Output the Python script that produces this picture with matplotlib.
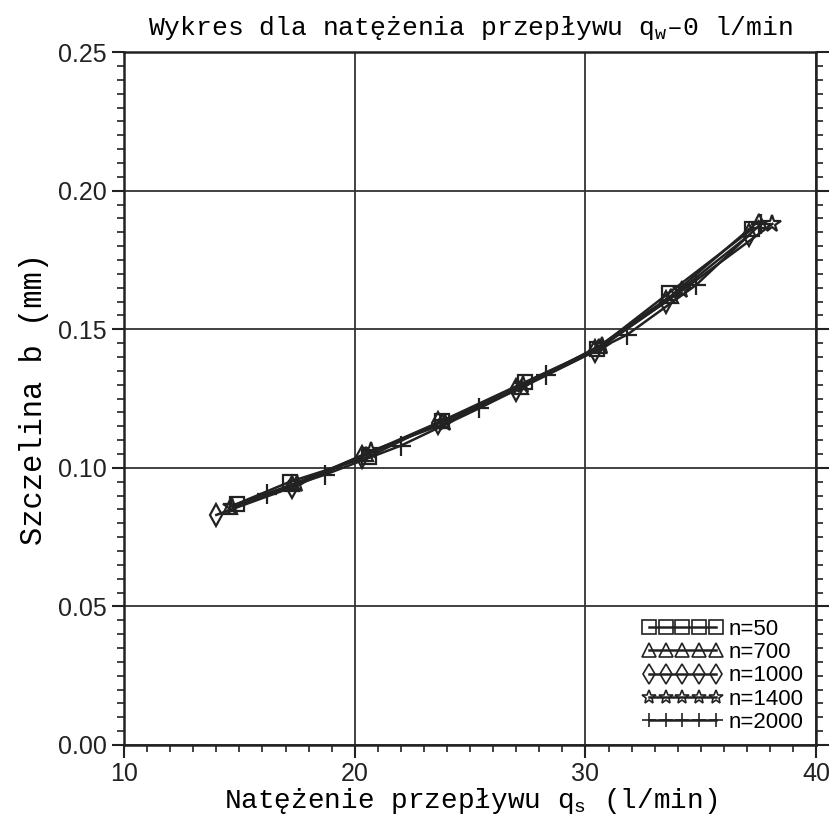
import numpy as np
import matplotlib.pyplot as plt
from matplotlib.ticker import MultipleLocator

x_50 = [14.9, 17.2, 20.6, 23.8, 27.4, 30.5, 33.6, 37.2]
y_50 = [0.087, 0.095, 0.104, 0.117, 0.131, 0.143, 0.163, 0.186]
x_700 = [14.6, 17.3, 20.5, 23.8, 27.2, 30.6, 33.7, 37.5]
y_700 = [0.086, 0.094, 0.105, 0.117, 0.129, 0.144, 0.162, 0.189]
x_1000 = [14.0, 17.3, 20.3, 23.6, 27.0, 30.4, 33.5, 37.1]
y_1000 = [0.083, 0.093, 0.104, 0.116, 0.128, 0.142, 0.160, 0.184]
x_1400 = [14.7, 17.5, 20.7, 23.9, 27.3, 30.7, 34.2, 38.1]
y_1400 = [0.086, 0.094, 0.106, 0.116, 0.130, 0.144, 0.164, 0.188]
x_2000 = [16.2, 18.7, 22.0, 25.4, 28.3, 31.8, 34.8, 37.6]
y_2000 = [0.0905, 0.0975, 0.108, 0.1215, 0.1335, 0.148, 0.166, 0.188]

series = [
    (x_50, y_50, 's', 'n=50'),
    (x_700, y_700, '^', 'n=700'),
    (x_1000, y_1000, 'd', 'n=1000'),
    (x_1400, y_1400, '*', 'n=1400'),
    (x_2000, y_2000, '+', 'n=2000'),
]
msize = {'s': 10, '^': 10, 'd': 11, '*': 13, '+': 15}

mono = 'Liberation Mono'
plt.rcParams['mathtext.fontset'] = 'custom'
plt.rcParams['mathtext.rm'] = mono

fig = plt.figure(figsize=(8.38, 8.19), dpi=100)
ax = fig.add_axes([0.148, 0.0904, 0.826, 0.846])

for xs, ys, mk, lab in series:
    ax.plot(xs, ys, color='#222222', lw=1.8, marker=mk, markersize=msize[mk],
            markerfacecolor='none', markeredgecolor='#222222', markeredgewidth=1.6, label=lab)

ax.set_xlim(10, 40)
ax.set_ylim(0, 0.25)
ax.xaxis.set_major_locator(MultipleLocator(10))
ax.xaxis.set_minor_locator(MultipleLocator(1))
ax.yaxis.set_major_locator(MultipleLocator(0.05))
ax.yaxis.set_minor_locator(MultipleLocator(0.005))
ax.yaxis.set_major_formatter(plt.FormatStrFormatter('%.2f'))
ax.tick_params(which='major', direction='out', length=9, width=1.5, labelsize=18, colors='#222222')
ax.tick_params(which='minor', direction='out', length=5, width=1.2, colors='#222222')
ax.tick_params(axis='y', which='both', right=True)
for lbl in ax.get_xticklabels() + ax.get_yticklabels():
    lbl.set_family('Liberation Sans')

ax.grid(True, which='major', color='#333333', lw=1.3)
for s in ax.spines.values():
    s.set_linewidth(1.8)
    s.set_color('#222222')

ax.set_title('Wykres dla natężenia przepływu q$_\\mathrm{w}$\u20130 l/min',
             family=mono, fontsize=19, pad=12)
ax.set_xlabel('Natężenie przepływu q$_\\mathrm{s}$ (l/min)', family=mono, fontsize=20, labelpad=0)
ax.set_ylabel('Szczelina b (mm)', family=mono, fontsize=22, labelpad=6)

leg = ax.legend(loc='lower right', frameon=False, numpoints=5, handlelength=3.6,
                labelspacing=0.1, handletextpad=0.3, borderaxespad=0.15,
                prop={'family': 'Liberation Sans', 'size': 16})
for h in leg.legend_handles:
    h.set_markersize(10)
    h.set_markeredgewidth(1.2)

fig.savefig('out.png', dpi=100)
